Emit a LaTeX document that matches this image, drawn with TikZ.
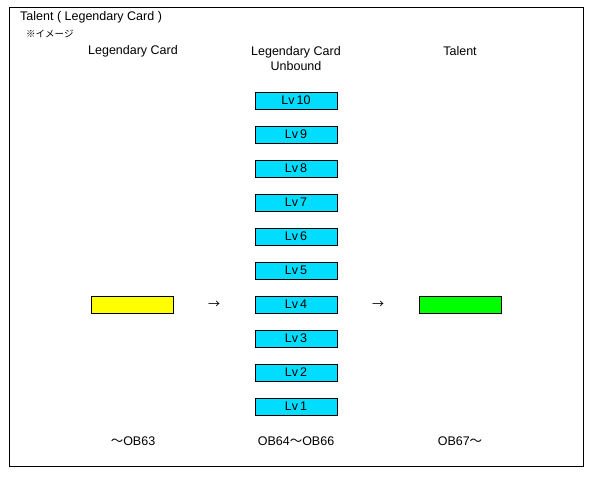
\documentclass[tikz,border=0pt]{standalone}
\usepackage{fontspec}
\setmainfont{Liberation Sans}
\newfontfamily\cjk{Noto Sans CJK JP}
\definecolor{lvcyan}{RGB}{0,221,255}
\definecolor{lgyellow}{RGB}{255,255,0}
\definecolor{tlgreen}{RGB}{0,255,0}
\begin{document}
\begin{tikzpicture}[x=1pt,y=-1pt,
  txt/.style={font=\fontsize{12.5}{14}\selectfont, inner sep=0pt},
  lvbox/.style={draw=black, line width=0.8pt, fill=lvcyan, minimum width=82pt, minimum height=17pt, inner sep=0pt, font=\fontsize{12.5}{14}\selectfont},
  cardbox/.style={draw=black, line width=0.8pt, minimum width=82pt, minimum height=17pt, inner sep=0pt}]
\useasboundingbox (0,0) rectangle (596,478);
\fill[white] (0,0) rectangle (596,478);
\node[draw=black, line width=0.8pt, minimum width=574pt, minimum height=459pt, inner sep=0pt] (frame) at (296,236.5) {};
\node[txt, anchor=west] (title) at (20,17.5) {Talent ( Legendary Card )};
\node[inner sep=0pt, anchor=west, font=\cjk\fontsize{9.5}{10}\selectfont] (note) at (26,33.5) {※イメージ};
\node[txt] (h1) at (133,51) {Legendary Card};
\node[txt, align=center] (h2) at (296,59) {Legendary Card\\[1pt]Unbound};
\node[txt] (h3) at (460,51) {Talent};
\foreach \i in {1,...,10} {
  \node[lvbox] (lv\i) at (296,{406.5-34*(\i-1)}) {Lv\,\i};
}
\node[cardbox, fill=lgyellow] (yellow) at (132,304.5) {};
\node[cardbox, fill=tlgreen] (green) at (460,304.5) {};
\node[inner sep=0pt, font=\cjk\fontsize{12}{14}\selectfont] (ar1) at (214,305) {→};
\node[inner sep=0pt, font=\cjk\fontsize{12}{14}\selectfont] (ar2) at (378,305) {→};
\node[txt] (b1) at (133,441) {{\cjk ～}OB63};
\node[txt] (b2) at (296,441) {OB64{\cjk ～}OB66};
\node[txt] (b3) at (460,441) {OB67{\cjk ～}};
\end{tikzpicture}
\end{document}
